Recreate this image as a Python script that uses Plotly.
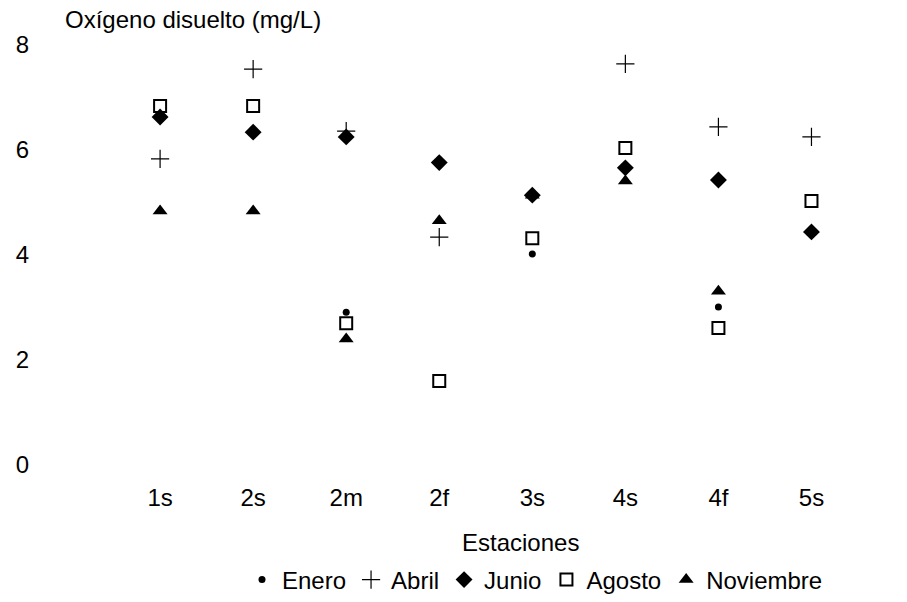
import plotly.graph_objects as go

estaciones = ["1s", "2s", "2m", "2f", "3s", "4s", "4f", "5s"]
enero = [None, None, 2.91, None, 4.02, None, 3.01, None]
abril = [5.83, 7.54, 6.36, 4.34, None, 7.64, 6.44, 6.25]
junio = [6.63, 6.34, 6.25, 5.76, 5.14, 5.66, 5.43, 4.44]
agosto = [6.84, 6.84, 2.70, 1.60, 4.32, 6.04, 2.61, 5.03]
noviembre = [4.84, 4.84, 2.40, 4.65, 5.14, 5.41, 3.31, None]
y_ticks = [0, 2, 4, 6, 8]

FONT = "Liberation Sans, Arial, sans-serif"
FS = 24

fig = go.Figure()
fig.add_trace(go.Scatter(x=estaciones, y=enero, mode="markers", name="Enero",
                         marker=dict(symbol="circle", size=7, color="black")))
fig.add_trace(go.Scatter(x=estaciones, y=abril, mode="markers", name="Abril",
                         marker=dict(symbol="cross-thin", size=13, color="black",
                                     line=dict(width=1.2, color="black"))))
fig.add_trace(go.Scatter(x=estaciones, y=agosto, mode="markers", name="Agosto",
                         marker=dict(symbol="square-open", size=12, color="black",
                                     line=dict(width=2, color="black"))))
fig.add_trace(go.Scatter(x=estaciones, y=junio, mode="markers", name="Junio",
                         marker=dict(symbol="diamond", size=13, color="black")))
fig.add_trace(go.Scatter(x=estaciones, y=noviembre, mode="markers", name="Noviembre",
                         marker=dict(symbol="triangle-up", size=13, color="black")))

fig.update_layout(
    width=907, height=602,
    margin=dict(l=30, r=49, t=45, b=137),
    paper_bgcolor="white", plot_bgcolor="white",
    font=dict(family=FONT, size=FS, color="black"),
    showlegend=True,
    legend=dict(orientation="h", x=535 / 907, xref="container", xanchor="center",
                y=1 - 580 / 602, yref="container", yanchor="middle",
                traceorder="normal", font=dict(size=FS),
                itemsizing="trace", itemwidth=30),
    title=dict(text="Oxígeno disuelto (mg/L)", xref="container", yref="container",
               x=65 / 907, xanchor="left", y=1 - 20 / 602, yanchor="middle",
               font=dict(size=FS, family=FONT)),
    annotations=[dict(text="Estaciones", xref="paper", yref="paper",
                      x=(520 - 30) / (907 - 30 - 49), xanchor="center",
                      y=(465 - 542) / 420, yanchor="middle", showarrow=False,
                      font=dict(size=FS, family=FONT))],
)
fig.update_xaxes(type="category", categoryorder="array", categoryarray=estaciones,
                 range=[-1.398, 7.5], showgrid=False, zeroline=False, showline=False,
                 ticks="", ticklabelstandoff=16, tickfont=dict(size=FS))
fig.update_yaxes(range=[0, 8], tickvals=y_ticks, showgrid=False, zeroline=False,
                 showline=False, ticks="", tickfont=dict(size=FS))

order = {"Enero": 1, "Abril": 2, "Junio": 3, "Agosto": 4, "Noviembre": 5}
for tr in fig.data:
    tr.legendrank = order[tr.name]

fig.write_html("out.html")
